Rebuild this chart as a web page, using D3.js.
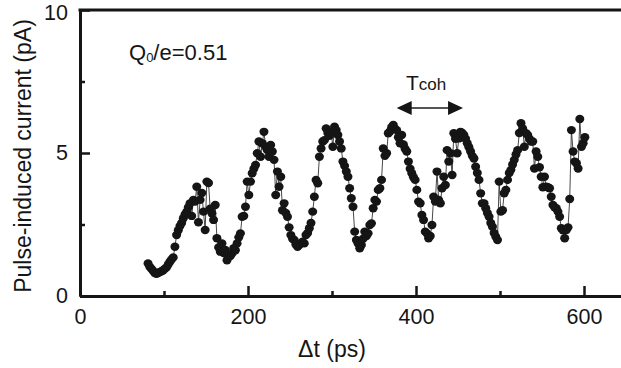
<!DOCTYPE html>
<html>
<head>
<meta charset="utf-8">
<script src="https://cdn.jsdelivr.net/npm/d3@7"></script>
<style>
  body { margin: 0; background: #fff; }
  svg { display: block; font-family: "Liberation Sans", Arial, Helvetica, sans-serif; }
</style>
</head>
<body>
<div id="chart"></div>
<script>
// delay between pulses (ps) and the measured pulse-induced current (pA)
const dt = [81,83,85,87,89,91,93,95,97,99,101,103,105,107,109,111,113,115,117,119,
  121,123,125,127,129,131,133,135,137,139,141,143,145,147,149,151,153,155,157,159,
  161,163,165,167,169,171,173,175,177,179,181,183,185,187,189,191,193,195,197,199,
  201,203,205,207,209,211,213,215,217,219,221,223,225,227,229,231,233,235,237,239,
  241,243,245,247,249,251,253,255,257,259,261,263,265,267,269,271,273,275,277,279,
  281,283,285,287,289,291,293,295,297,299,301,303,305,307,309,311,313,315,317,319,
  321,323,325,327,329,331,333,335,337,339,341,343,345,347,349,351,353,355,357,359,
  361,363,365,367,369,371,373,375,377,379,381,383,385,387,389,391,393,395,397,399,
  401,403,405,407,409,411,413,415,417,419,421,423,425,427,429,431,433,435,437,439,
  441,443,445,447,449,451,453,455,457,459,461,463,465,467,469,471,473,475,477,479,
  481,483,485,487,489,491,493,495,497,499,501,503,505,507,509,511,513,515,517,519,
  521,523,525,527,529,531,533,535,537,539,541,543,545,547,549,551,553,555,557,559,
  561,563,565,567,569,571,573,575,577,579,581,583,585,587,589,591,593,595,597,599,601];
const current = [1.14,1.02,0.95,0.88,0.80,0.78,0.80,0.84,0.86,0.90,0.95,1.00,1.10,1.20,1.28,1.35,1.72,2.13,2.30,2.45,
  2.55,2.72,2.85,2.95,3.10,3.24,2.80,3.36,3.30,3.82,2.58,3.36,3.60,2.95,2.31,4.00,3.95,3.05,2.89,2.66,
  3.18,2.02,1.70,1.55,1.84,1.50,1.61,1.25,1.43,1.40,1.49,1.67,1.60,1.84,2.05,2.19,2.77,2.80,3.12,4.00,
  3.53,4.00,4.29,4.45,4.58,4.99,5.40,4.87,5.34,5.74,5.22,5.10,4.87,5.28,5.05,4.76,3.53,4.35,3.82,4.17,
  3.00,3.24,2.90,2.77,2.40,2.13,2.00,1.96,1.80,1.72,1.78,1.84,1.90,1.84,2.13,2.20,2.37,2.55,2.95,3.47,
  4.06,3.94,4.87,5.16,5.40,5.45,5.86,5.70,5.60,5.74,5.22,5.92,5.80,5.63,5.40,5.16,4.70,4.55,4.35,4.17,
  3.77,3.42,3.12,2.25,1.96,1.84,1.67,1.78,2.00,2.25,2.10,2.19,2.48,2.54,3.07,3.36,3.30,3.71,3.77,4.06,
  5.16,4.90,4.99,5.69,5.75,5.90,5.98,5.85,5.80,5.55,5.34,5.63,5.30,5.15,5.05,4.70,4.45,4.29,4.15,4.06,
  3.71,3.30,3.24,2.83,2.66,2.25,2.19,2.02,2.10,2.48,3.47,3.30,4.35,3.36,3.24,3.77,4.17,3.88,5.10,4.70,
  4.99,4.23,5.69,5.50,4.99,5.51,5.74,5.70,5.63,5.50,5.34,5.20,5.05,4.90,4.81,4.52,4.30,4.06,3.59,3.24,
  3.24,3.07,2.90,2.77,2.55,2.42,2.20,2.07,1.96,4.00,2.95,3.00,3.59,3.71,4.06,4.30,4.41,4.60,4.76,4.95,
  5.10,5.70,6.04,5.86,5.22,5.69,5.63,5.50,5.40,5.40,4.46,5.05,4.87,4.50,4.17,3.80,4.17,3.82,3.80,3.77,
  3.47,3.18,3.10,3.07,2.95,2.77,2.37,2.30,2.02,2.31,2.40,3.39,5.80,5.05,4.70,4.64,4.46,6.19,5.22,5.34,5.55];

const xMajor = [0, 200, 400, 600];
const xMinor = [100, 300, 500];
const yMajor = [0, 5, 10];
const yMinor = [2.5, 7.5];
const cohArrow = [377, 456];   // ps, ends of the coherence-time arrow
const cohLevel = 6.57;         // pA, height of the arrow

const W = 621, H = 368;
const ink = "#151515";

const svg = d3.select("#chart").append("svg")
  .attr("width", W).attr("height", H);

const x = d3.scaleLinear().domain([0, 660]).range([80, 80 + 660 * 0.84]);
const y = d3.scaleLinear().domain([0, 10]).range([296, 10]);

const pts = dt.map((d, i) => [d, current[i]]);

// thin connecting line
svg.append("path")
  .datum(pts)
  .attr("fill", "none")
  .attr("stroke", "#333")
  .attr("stroke-width", 0.9)
  .attr("d", d3.line().x(d => x(d[0])).y(d => y(d[1])));

svg.append("g").selectAll("ellipse")
  .data(pts)
  .enter().append("ellipse")
  .attr("cx", d => x(d[0]))
  .attr("cy", d => y(d[1]))
  .attr("rx", 4.5)
  .attr("ry", 4.2)
  .attr("fill", ink);

// axes, ticks pointing inward
function styleAxis(g) {
  g.selectAll("path").attr("stroke", ink).attr("stroke-width", 3);
  g.selectAll("line").attr("stroke", ink).attr("stroke-width", 2.5);
  g.selectAll("text").attr("fill", ink).style("font-size", "21.5px")
    .style("font-family", '"Liberation Sans", Arial, sans-serif');
}

svg.append("g").attr("transform", "translate(0," + y(0) + ")")
  .call(d3.axisBottom(x).tickValues(xMajor).tickSizeInner(-10).tickSizeOuter(0).tickPadding(13))
  .call(styleAxis);
svg.append("g").attr("transform", "translate(0," + y(0) + ")")
  .call(d3.axisBottom(x).tickValues(xMinor).tickSizeInner(-5).tickSizeOuter(0).tickFormat(""))
  .call(styleAxis);

const yAx = svg.append("g").attr("transform", "translate(" + x(0) + ",0)")
  .call(d3.axisLeft(y).tickValues(yMajor).tickSizeInner(-10).tickSizeOuter(0).tickPadding(12))
  .call(styleAxis);
// keep the top label inside the picture
yAx.selectAll(".tick text").filter(d => d === 10).attr("dy", "0.45em");
svg.append("g").attr("transform", "translate(" + x(0) + ",0)")
  .call(d3.axisLeft(y).tickValues(yMinor).tickSizeInner(-5).tickSizeOuter(0).tickFormat(""))
  .call(styleAxis);

// top frame line
svg.append("line")
  .attr("x1", x(0) - 1.5).attr("x2", W + 5)
  .attr("y1", y(10)).attr("y2", y(10))
  .attr("stroke", ink).attr("stroke-width", 3);

// axis titles
svg.append("text")
  .attr("x", 332).attr("y", 357)
  .attr("text-anchor", "middle")
  .attr("font-size", "23px").attr("fill", ink)
  .text("\u0394t (ps)");

svg.append("text")
  .attr("transform", "translate(31," + 156 + ")rotate(-90)")
  .attr("text-anchor", "middle")
  .attr("font-size", "23px").attr("fill", ink)
  .text("Pulse-induced current (pA)");

// charge annotation
const q = svg.append("text")
  .attr("x", 129).attr("y", 60)
  .attr("font-size", "22px").attr("fill", ink);
q.append("tspan").text("Q");
q.append("tspan").attr("font-size", "13px").attr("dy", 2).text("0");
q.append("tspan").attr("dy", -2).text("/e=0.51");

// coherence time arrow
const ay = y(cohLevel);
const ax1 = x(cohArrow[0]), ax2 = x(cohArrow[1]);
svg.append("line")
  .attr("x1", ax1 + 10).attr("x2", ax2 - 10)
  .attr("y1", ay).attr("y2", ay)
  .attr("stroke", "#555").attr("stroke-width", 2);
svg.append("path")
  .attr("d", `M${ax1},${ay}L${ax1 + 15},${ay - 7}L${ax1 + 15},${ay + 7}Z`)
  .attr("fill", ink);
svg.append("path")
  .attr("d", `M${ax2},${ay}L${ax2 - 15},${ay - 7}L${ax2 - 15},${ay + 7}Z`)
  .attr("fill", ink);

const t = svg.append("text")
  .attr("x", 406).attr("y", 90)
  .attr("fill", ink).attr("font-size", "21px");
t.append("tspan").text("T");
t.append("tspan").attr("font-size", "17px").text("coh");
</script>
</body>
</html>
